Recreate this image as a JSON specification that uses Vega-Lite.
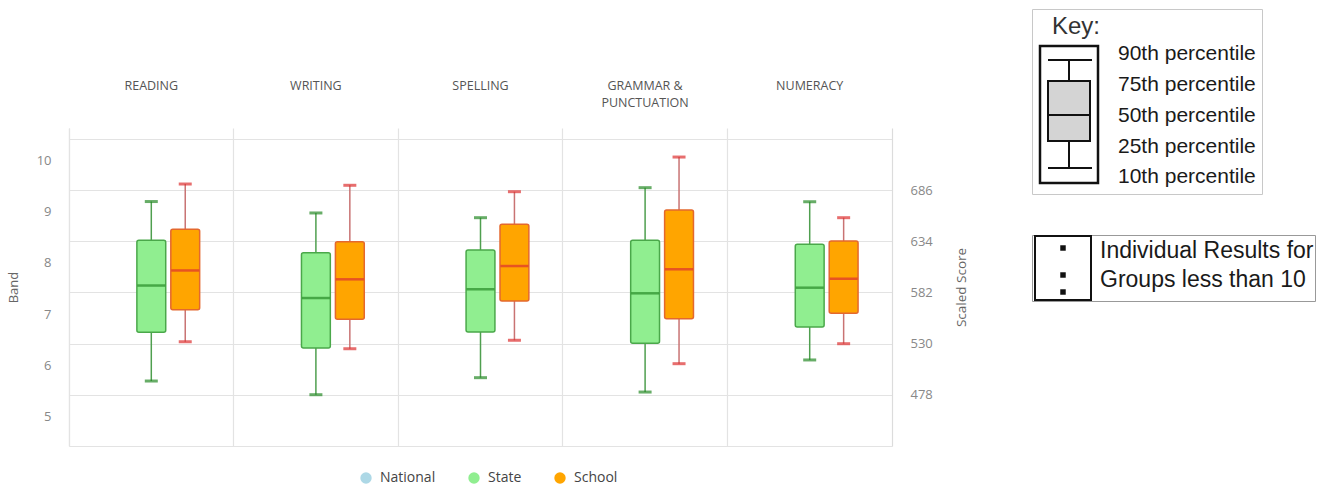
{
  "$schema": "https://vega.github.io/schema/vega-lite/v6.json",
  "background": "white",
  "padding": {"left": 7, "top": 8, "right": 5, "bottom": 0},
  "config": {
    "view": {"stroke": null},
    "font": "Open Sans",
    "axis": {"labelFont": "Open Sans", "titleFont": "Open Sans"},
    "legend": {"labelFont": "Open Sans"}
  },
  "spacing": 63,
  "resolve": {"scale": {"x": "independent", "y": "independent"}, "legend": {"color": "independent"}},
  "hconcat": [
    {
      "spacing": 0,
      "resolve": {"scale": {"x": "independent", "y": "independent"}, "legend": {"color": "independent"}},
      "vconcat": [
        {"data": {"values": []}, "mark": "point", "encoding": {}, "width": 10, "height": 70},
        {
          "width": 823,
          "height": 318,
          "data": {"values": [
            {"subject": "READING", "group": "State", "p10": 492.0, "p25": 541.6, "p50": 589.0, "p75": 634.9, "p90": 674.3},
            {"subject": "READING", "group": "School", "p10": 531.9, "p25": 564.3, "p50": 604.3, "p75": 646.1, "p90": 692.1},
            {"subject": "WRITING", "group": "State", "p10": 478.1, "p25": 525.5, "p50": 576.3, "p75": 622.3, "p90": 662.7},
            {"subject": "WRITING", "group": "School", "p10": 524.8, "p25": 554.7, "p50": 595.3, "p75": 633.5, "p90": 690.8},
            {"subject": "SPELLING", "group": "State", "p10": 495.4, "p25": 541.8, "p50": 585.2, "p75": 625.1, "p90": 657.9},
            {"subject": "SPELLING", "group": "School", "p10": 533.4, "p25": 573.3, "p50": 608.8, "p75": 651.2, "p90": 684.3},
            {"subject": "GRAMMAR & PUNCTUATION", "group": "State", "p10": 480.8, "p25": 530.3, "p50": 581.1, "p75": 634.9, "p90": 688.4},
            {"subject": "GRAMMAR & PUNCTUATION", "group": "School", "p10": 509.6, "p25": 555.3, "p50": 605.5, "p75": 665.7, "p90": 719.5},
            {"subject": "NUMERACY", "group": "State", "p10": 513.4, "p25": 546.9, "p50": 586.8, "p75": 630.9, "p90": 674.1},
            {"subject": "NUMERACY", "group": "School", "p10": 529.9, "p25": 560.8, "p50": 595.9, "p75": 634.2, "p90": 657.9}
          ]},
          "encoding": {
            "x": {
              "field": "subject", "type": "nominal",
              "sort": ["READING", "WRITING", "SPELLING", "GRAMMAR & PUNCTUATION", "NUMERACY"],
              "scale": {"paddingInner": 0, "paddingOuter": 0},
              "axis": {
                "orient": "top", "title": null, "bandPosition": 0,
                "labelAngle": 0, "labelAlign": "center", "labelBaseline": "top", "labelPadding": 49,
                "ticks": false, "tickSize": 0, "domain": false,
                "grid": true, "gridColor": "#e3e3e3", "gridWidth": 1.2,
                "labelFontSize": 12.5, "labelColor": "#555", "labelLineHeight": 17,
                "labelExpr": "datum.label == 'GRAMMAR & PUNCTUATION' ? ['GRAMMAR &', 'PUNCTUATION'] : datum.label"
              }
            },
            "xOffset": {"field": "group", "type": "nominal", "scale": {"domain": ["National", "State", "School"], "paddingInner": 0.15, "paddingOuter": 1.07}}
          },
          "resolve": {"axis": {"y": "independent"}, "scale": {"stroke": "independent"}},
          "layer": [
            {
              "mark": {"type": "rule", "strokeWidth": 1.5},
              "encoding": {
                "y": {
                  "field": "p10", "type": "quantitative",
                  "scale": {"domain": [426, 749], "nice": false, "zero": false},
                  "axis": {
                    "orient": "left", "title": "Band", "values": [452, 504, 556, 608, 660, 712],
                    "labelExpr": "format((datum.value-426)/52+4.5,'d')",
                    "grid": false, "ticks": false, "domain": true, "domainColor": "#e3e3e3", "domainWidth": 1.2,
                    "labelPadding": 18, "labelOffset": -4, "labelColor": "#888", "labelFontSize": 13,
                    "titleColor": "#666", "titleFontSize": 13, "titleFontWeight": "normal", "titlePadding": 16
                  }
                },
                "y2": {"field": "p90"},
                "stroke": {"field": "group", "type": "nominal", "scale": {"domain": ["State", "School"], "range": ["#4f9f4f", "#c97373"]}, "legend": null}
              }
            },
            {
              "transform": [{"fold": ["p10", "p90"], "as": ["q", "v"]}],
              "mark": {"type": "tick", "orient": "horizontal", "size": 13, "thickness": 3, "filled": true},
              "encoding": {
                "y": {"field": "v", "type": "quantitative", "scale": {"domain": [426, 749], "nice": false, "zero": false}, "axis": null},
                "fill": {"field": "group", "type": "nominal", "scale": {"domain": ["State", "School"], "range": ["#268a26", "#dd3030"]}, "legend": null}
              }
            },
            {
              "mark": {"type": "bar", "strokeWidth": 1.5, "cornerRadius": 2},
              "encoding": {
                "y": {
                  "field": "p25", "type": "quantitative",
                  "scale": {"domain": [426, 749], "nice": false, "zero": false},
                  "axis": {
                    "orient": "right", "title": "Scaled Score", "values": [426, 478, 530, 582, 634, 686, 738],
                    "labelExpr": "datum.value==426||datum.value==738 ? '' : datum.label",
                    "grid": true, "gridColor": "#e3e3e3", "gridWidth": 1.2,
                    "ticks": false, "domain": true, "domainColor": "#dcdcdc", "domainWidth": 1.2,
                    "labelPadding": 18, "labelColor": "#888", "labelFontSize": 13,
                    "titleColor": "#666", "titleFontSize": 13.5, "titleFontWeight": "normal", "titlePadding": 36, "titleAngle": 270
                  }
                },
                "y2": {"field": "p75"},
                "color": {
                  "field": "group", "type": "nominal",
                  "scale": {"domain": ["National", "State", "School"], "range": ["#add8e6", "#90ee90", "#ffa500"]},
                  "legend": {
                    "title": null, "orient": "none", "legendX": 290, "legendY": 343, "direction": "horizontal",
                    "symbolType": "circle", "symbolSize": 130, "symbolStrokeWidth": 0,
                    "labelFontSize": 14, "labelColor": "#444", "labelOffset": 7, "columnPadding": 31
                  }
                },
                "stroke": {"field": "group", "type": "nominal", "scale": {"domain": ["State", "School"], "range": ["#4aa84a", "#e4682e"]}, "legend": null}
              }
            },
            {
              "mark": {"type": "tick", "orient": "horizontal", "size": 28, "thickness": 2.5, "filled": true},
              "encoding": {
                "y": {"field": "p50", "type": "quantitative", "scale": {"domain": [426, 749], "nice": false, "zero": false}, "axis": null},
                "fill": {"field": "group", "type": "nominal", "legend": null}
              }
            }
          ]
        }
      ]
    },
    {
      "spacing": 39,
      "resolve": {"scale": {"x": "independent", "y": "independent"}},
      "vconcat": [
        {
          "width": 230,
          "height": 185,
          "view": {"stroke": "#c8c8c8", "strokeWidth": 1},
          "resolve": {"scale": {"y": "independent"}},
          "layer": [
            {
              "data": {"values": [{"p10": 26, "p25": 53, "p50": 79, "p75": 113, "p90": 134}]},
              "encoding": {},
              "layer": [
                {
                  "mark": {"type": "rect", "filled": false, "stroke": "#111", "strokeWidth": 2.5},
                  "encoding": {
                    "x": {"datum": 8, "type": "quantitative", "scale": {"domain": [0, 230], "nice": false, "zero": false}, "axis": null},
                    "x2": {"datum": 66},
                    "y": {"datum": 11, "type": "quantitative", "scale": {"domain": [0, 185], "nice": false, "zero": false}, "axis": null},
                    "y2": {"datum": 148}
                  }
                },
                {
                  "mark": {"type": "rule", "stroke": "#111", "strokeWidth": 2},
                  "encoding": {
                    "x": {"datum": 37, "type": "quantitative", "scale": {"domain": [0, 230], "nice": false, "zero": false}, "axis": null},
                    "y": {"field": "p10", "type": "quantitative", "scale": {"domain": [0, 185], "nice": false, "zero": false}, "axis": null},
                    "y2": {"field": "p90"}
                  }
                },
                {
                  "mark": {"type": "rect", "fill": "#d4d4d4", "stroke": "#111", "strokeWidth": 2},
                  "encoding": {
                    "x": {"datum": 16, "type": "quantitative", "scale": {"domain": [0, 230], "nice": false, "zero": false}, "axis": null},
                    "x2": {"datum": 58},
                    "y": {"field": "p25", "type": "quantitative", "scale": {"domain": [0, 185], "nice": false, "zero": false}, "axis": null},
                    "y2": {"field": "p75"}
                  }
                },
                {
                  "transform": [{"fold": ["p10", "p90"], "as": ["q", "v"]}],
                  "mark": {"type": "rule", "stroke": "#111", "strokeWidth": 2},
                  "encoding": {
                    "x": {"datum": 16, "type": "quantitative", "scale": {"domain": [0, 230], "nice": false, "zero": false}, "axis": null},
                    "x2": {"datum": 60},
                    "y": {"field": "v", "type": "quantitative", "scale": {"domain": [0, 185], "nice": false, "zero": false}, "axis": null}
                  }
                },
                {
                  "mark": {"type": "rule", "stroke": "#111", "strokeWidth": 2},
                  "encoding": {
                    "x": {"datum": 16, "type": "quantitative", "scale": {"domain": [0, 230], "nice": false, "zero": false}, "axis": null},
                    "x2": {"datum": 58},
                    "y": {"field": "p50", "type": "quantitative", "scale": {"domain": [0, 185], "nice": false, "zero": false}, "axis": null}
                  }
                },
                {
                  "mark": {"type": "text", "text": "Key:", "font": "Liberation Sans", "fontSize": 24, "color": "#333", "align": "left", "baseline": "middle"},
                  "encoding": {
                    "x": {"datum": 20, "type": "quantitative", "scale": {"domain": [0, 230], "nice": false, "zero": false}, "axis": null},
                    "y": {"datum": 167, "type": "quantitative", "scale": {"domain": [0, 185], "nice": false, "zero": false}, "axis": null}
                  }
                }
              ]
            },
            {
              "data": {"values": [
                {"label": "90th percentile"},
                {"label": "75th percentile"},
                {"label": "50th percentile"},
                {"label": "25th percentile"},
                {"label": "10th percentile"}
              ]},
              "mark": {"type": "text", "font": "Liberation Sans", "fontSize": 21, "color": "#1a1a1a", "align": "left", "baseline": "middle"},
              "encoding": {
                "x": {"datum": 86, "type": "quantitative", "scale": {"domain": [0, 230], "nice": false, "zero": false}, "axis": null},
                "y": {"field": "label", "type": "ordinal", "sort": null, "scale": {"type": "point", "padding": 1.245, "align": 0.73}, "axis": null},
                "text": {"field": "label"}
              }
            }
          ]
        },
        {
          "width": 283,
          "height": 66,
          "view": {"stroke": "#999", "strokeWidth": 1},
          "layer": [
            {
              "data": {"values": [{}]},
              "mark": {"type": "rect", "filled": false, "stroke": "#111", "strokeWidth": 2},
              "encoding": {
                "x": {"datum": 3, "type": "quantitative", "scale": {"domain": [0, 283], "nice": false, "zero": false}, "axis": null},
                "x2": {"datum": 59},
                "y": {"datum": 1, "type": "quantitative", "scale": {"domain": [0, 66], "nice": false, "zero": false, "reverse": true}, "axis": null},
                "y2": {"datum": 65}
              }
            },
            {
              "data": {"values": [{"r": 13}, {"r": 40}, {"r": 57}]},
              "mark": {"type": "square", "size": 30, "filled": true, "color": "#111", "opacity": 1},
              "encoding": {
                "x": {"datum": 31, "type": "quantitative", "scale": {"domain": [0, 283], "nice": false, "zero": false}, "axis": null},
                "y": {"field": "r", "type": "quantitative", "scale": {"domain": [0, 66], "nice": false, "zero": false, "reverse": true}, "axis": null}
              }
            },
            {
              "data": {"values": [{}]},
              "mark": {"type": "text", "text": "Individual Results for", "font": "Liberation Sans", "fontSize": 23, "color": "#1a1a1a", "align": "left", "baseline": "middle"},
              "encoding": {
                "x": {"datum": 68, "type": "quantitative", "scale": {"domain": [0, 283], "nice": false, "zero": false}, "axis": null},
                "y": {"datum": 16, "type": "quantitative", "scale": {"domain": [0, 66], "nice": false, "zero": false, "reverse": true}, "axis": null}
              }
            },
            {
              "data": {"values": [{}]},
              "mark": {"type": "text", "text": "Groups less than 10", "font": "Liberation Sans", "fontSize": 23, "color": "#1a1a1a", "align": "left", "baseline": "middle"},
              "encoding": {
                "x": {"datum": 68, "type": "quantitative", "scale": {"domain": [0, 283], "nice": false, "zero": false}, "axis": null},
                "y": {"datum": 45, "type": "quantitative", "scale": {"domain": [0, 66], "nice": false, "zero": false, "reverse": true}, "axis": null}
              }
            }
          ]
        }
      ]
    }
  ]
}
